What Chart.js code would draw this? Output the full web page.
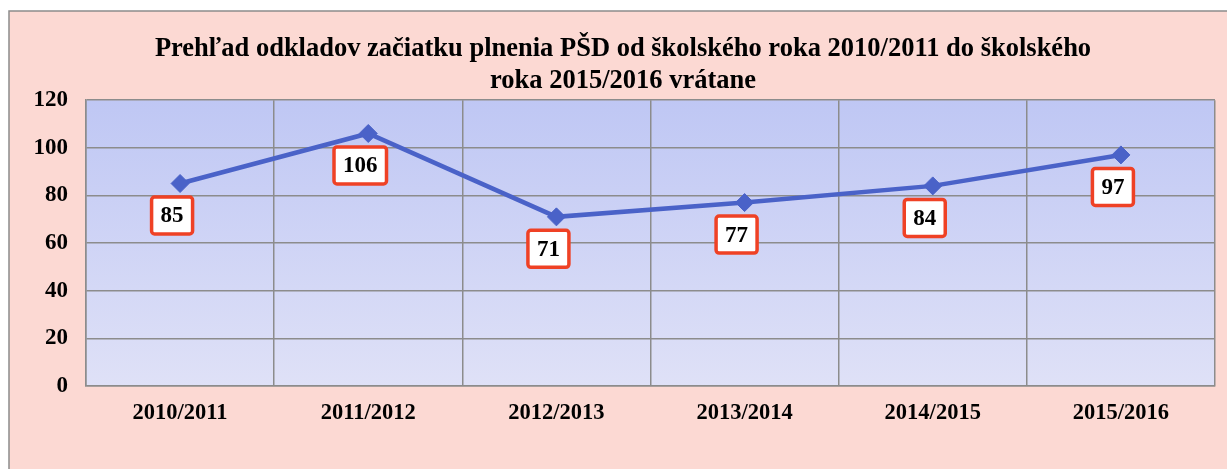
<!DOCTYPE html>
<html>
<head>
<meta charset="utf-8">
<script src="https://cdn.jsdelivr.net/npm/chart.js@4.4.0/dist/chart.umd.min.js"></script>
<style>
  html, body { margin: 0; padding: 0; background: #fff; }
  #wrap { position: relative; width: 1227px; height: 469px; }
</style>
</head>
<body>
<div id="wrap"><canvas id="odklady" width="1227" height="469"></canvas></div>
<script>
// --- DATA ---
const roky = ['2010/2011', '2011/2012', '2012/2013', '2013/2014', '2014/2015', '2015/2016'];
const odklady = [85, 106, 71, 77, 84, 97];
const yTicks = [0, 20, 40, 60, 80, 100, 120];
const nadpis = [
    'Prehľad odkladov začiatku plnenia PŠD od školského roka 2010/2011 do školského',
    'roka 2015/2016 vrátane'
];

const SERIF = '"Liberation Serif", "Times New Roman", serif';

// pink box behind everything + gradient plot area
const pozadie = {
    id: 'pozadie',
    beforeDraw(chart) {
        const { ctx, chartArea: a } = chart;
        ctx.save();
        ctx.fillStyle = '#ffffff';
        ctx.fillRect(0, 0, chart.width, chart.height);
        ctx.fillStyle = '#fcd9d3';
        ctx.fillRect(9, 11, chart.width, chart.height);
        ctx.strokeStyle = '#8c8c8c';
        ctx.lineWidth = 1.5;
        ctx.strokeRect(9, 11, chart.width + 10, chart.height + 10);
        const g = ctx.createLinearGradient(0, a.top, 0, a.bottom);
        g.addColorStop(0, '#bfc7f4');
        g.addColorStop(1, '#dfe1f7');
        ctx.fillStyle = g;
        ctx.fillRect(a.left, a.top, a.right - a.left, a.bottom - a.top);
        ctx.restore();
    }
};

// value boxes under the points
const stitky = {
    id: 'stitky',
    afterDatasetsDraw(chart) {
        const { ctx } = chart;
        const meta = chart.getDatasetMeta(0);
        ctx.save();
        ctx.font = 'bold 23px ' + SERIF;
        ctx.textAlign = 'center';
        ctx.textBaseline = 'middle';
        meta.data.forEach((pt, i) => {
            const txt = String(odklady[i]);
            const w = ctx.measureText(txt).width + 18;
            const h = 37;
            const cx = pt.x - 8;
            const cy = pt.y + 32;
            ctx.beginPath();
            ctx.roundRect(cx - w / 2, cy - h / 2, w, h, 3);
            ctx.fillStyle = '#ffffff';
            ctx.fill();
            ctx.lineWidth = 3.5;
            ctx.strokeStyle = '#ef4125';
            ctx.stroke();
            ctx.fillStyle = '#000';
            ctx.fillText(txt, cx, cy + 1);
        });
        ctx.restore();
    }
};

new Chart(document.getElementById('odklady'), {
    type: 'line',
    data: {
        labels: roky,
        datasets: [{
            data: odklady,
            borderColor: '#4a62c8',
            backgroundColor: '#4a62c8',
            borderWidth: 4.5,
            pointStyle: 'rectRot',
            pointRadius: 9,
            pointBorderWidth: 1,
            tension: 0
        }]
    },
    options: {
        responsive: false,
        animation: false,
        layout: { padding: { top: 33, right: 12, left: 31, bottom: 0 } },
        plugins: {
            legend: { display: false },
            tooltip: { enabled: false },
            title: {
                display: true,
                text: nadpis,
                color: '#000',
                font: { family: SERIF, size: 26.5, weight: 'bold', lineHeight: 1.21 },
                padding: { top: 0, bottom: 3 }
            }
        },
        scales: {
            x: {
                offset: true,
                grid: { offset: true, color: '#8c8c8c', lineWidth: 1.5, drawTicks: false },
                border: { color: '#8c8c8c', width: 1.5 },
                ticks: { color: '#000', padding: 14, font: { family: SERIF, size: 22.5, weight: 'bold' } },
                afterFit(s) { s.height = 83; }
            },
            y: {
                min: 0,
                max: 120,
                afterBuildTicks(s) { s.ticks = yTicks.map(v => ({ value: v })); },
                grid: { color: '#8c8c8c', lineWidth: 1.5, drawTicks: false },
                border: { color: '#8c8c8c', width: 1.5 },
                ticks: { color: '#000', padding: 18, font: { family: SERIF, size: 23, weight: 'bold' } },
                afterFit(s) { s.width = 55; }
            }
        }
    },
    plugins: [pozadie, stitky]
});
</script>
</body>
</html>
